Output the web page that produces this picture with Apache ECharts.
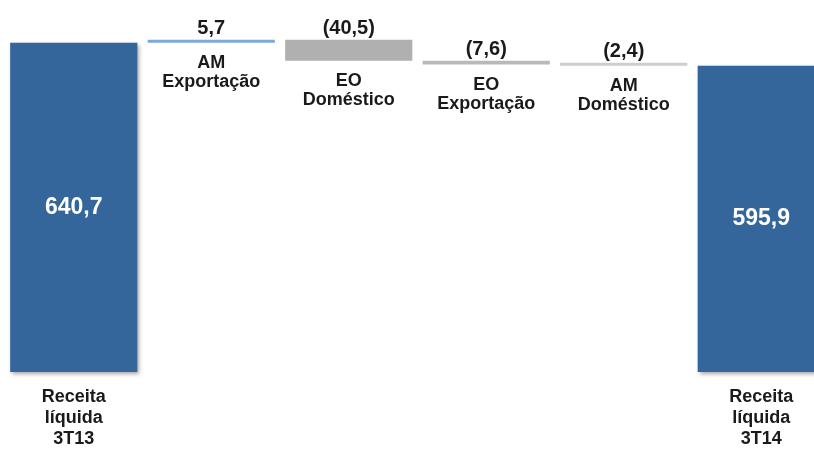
<!DOCTYPE html>
<html>
<head>
<meta charset="utf-8">
<script src="https://cdn.jsdelivr.net/npm/echarts@6/dist/echarts.min.js"></script>
<style>
  html, body { margin: 0; padding: 0; background: #fff; overflow: hidden; }
  /* the last bar runs past the right edge of the picture */
  #chart { width: 830px; height: 450px; }
</style>
</head>
<body>
<div id="chart"></div>
<script>
const categories = ["Receita\nlíquida\n3T13", "AM\nExportação", "EO\nDoméstico", "EO\nExportação", "AM\nDoméstico", "Receita\nlíquida\n3T14"];
const values = [640.7, 5.7, -40.5, -7.6, -2.4, 595.9];
const isTotal = [true, false, false, false, false, true];
const barColors = ["#35669b", "#7aa9dc", "#b0b0b0", "#b9b9b9", "#cdcdcd", "#35669b"];

const FONT = "Arial, 'Liberation Sans', sans-serif";

// Waterfall: invisible base + visible step, stacked
const bases = [];
const steps = [];
let running = 0;
values.forEach((v, i) => {
  if (isTotal[i]) {
    bases.push(0);
    steps.push(v);
    running = v;
  } else if (v >= 0) {
    bases.push(+running.toFixed(1));
    steps.push(v);
    running += v;
  } else {
    running += v;
    bases.push(+running.toFixed(1));
    steps.push(-v);
  }
});

function fmt(v) {
  const s = Math.abs(v).toFixed(1).replace(".", ",");
  return v < 0 ? `(${s})` : s;
}

const chart = echarts.init(document.getElementById("chart"), null, { renderer: "canvas" });

chart.setOption({
  animation: false,
  grid: { left: 5, right: 0, top: 0, bottom: 77 },
  xAxis: {
    type: "category",
    data: categories,
    axisLine: { show: false },
    axisTick: { show: false },
    axisLabel: {
      interval: 0,
      margin: 15,
      fontFamily: FONT,
      fontSize: 18,
      fontWeight: "bold",
      lineHeight: 21,
      color: "#1a1a1a",
      formatter: (value, index) => (isTotal[index] ? value : ""),
    },
  },
  yAxis: {
    type: "value",
    min: 0,
    max: 724,
    show: false,
  },
  series: [
    {
      type: "bar",
      stack: "w",
      barCategoryGap: "7.5%",
      silent: true,
      itemStyle: { color: "transparent" },
      data: bases,
      label: {
        show: true,
        position: "insideTop",
        distance: 11,
        fontFamily: FONT,
        fontSize: 18,
        fontWeight: "bold",
        lineHeight: 19,
        color: "#1a1a1a",
        formatter: (p) => (isTotal[p.dataIndex] ? "" : categories[p.dataIndex]),
      },
    },
    {
      type: "bar",
      stack: "w",
      barMinHeight: 3,
      silent: true,
      data: steps.map((s, i) => ({
        value: s,
        itemStyle: isTotal[i]
          ? {
              color: barColors[i],
              shadowColor: "rgba(0,0,0,0.35)",
              shadowBlur: 4,
              shadowOffsetX: 2,
              shadowOffsetY: 2,
            }
          : { color: barColors[i] },
        label: isTotal[i]
          ? {
              show: true,
              position: "inside",
              fontFamily: FONT,
              fontSize: 23,
              fontWeight: "bold",
              color: "#ffffff",
              formatter: fmt(values[i]),
            }
          : {
              show: true,
              position: "top",
              distance: 1,
              fontFamily: FONT,
              fontSize: 20,
              fontWeight: "bold",
              color: "#1a1a1a",
              formatter: fmt(values[i]),
            },
      })),
    },
  ],
});
</script>
</body>
</html>
